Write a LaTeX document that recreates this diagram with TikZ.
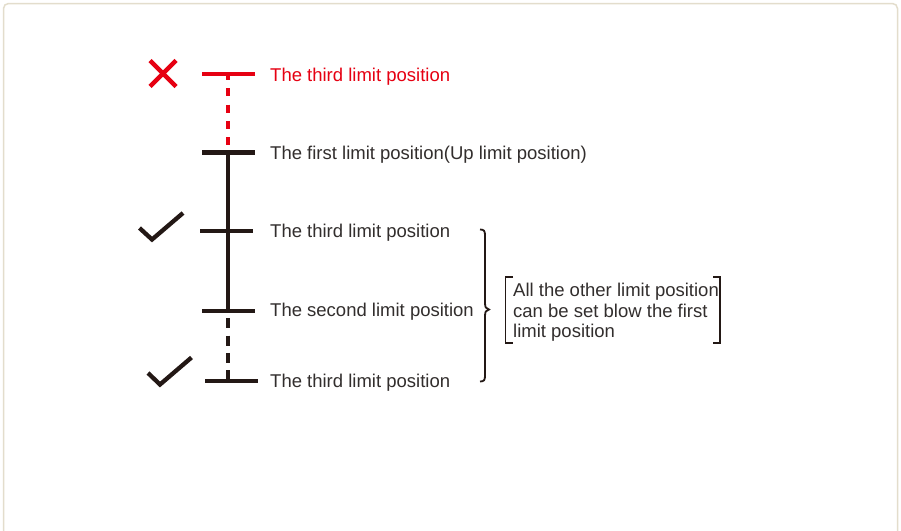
\documentclass[tikz,border=0pt]{standalone}
\usepackage{fontspec}
\setmainfont{Liberation Sans}
\usetikzlibrary{calc}
\definecolor{inkblack}{HTML}{231815}
\definecolor{inkred}{HTML}{E60012}
\definecolor{txtgray}{HTML}{322E2D}
\definecolor{framecol}{HTML}{E3DDCC}
\begin{document}
\begin{tikzpicture}[x=1pt,y=-1pt,
  tickbar/.style={draw=none,fill=inkblack,minimum width=53pt,minimum height=4.5pt,inner sep=0pt,outer sep=0pt},
  redbar/.style={tickbar,fill=inkred},
  lbl/.style={anchor=base west,inner sep=0pt,font=\fontsize{18.5}{20.5}\selectfont,text=txtgray},
  redlbl/.style={lbl,text=inkred},
  stem/.style={line width=4pt,inkblack},
  symstroke/.style={line width=4.3pt},
  thinline/.style={line width=1.8pt,inkblack},
]
\useasboundingbox (0,0) rectangle (901,530);
\fill[white] (0,0) rectangle (901,530);
\draw[framecol,line width=1.5pt,rounded corners=5pt] (3.5,3.5) rectangle (897.5,545);

% tick positions
\coordinate (c0) at (228,74);
\coordinate (c1) at (228,152.5);
\coordinate (c2) at (228,231);
\coordinate (c3) at (228,311);
\coordinate (c4) at (228,381);

% connectors (drawn first, ticks on top)
\draw[line width=4pt,inkred,dash pattern=on 8pt off 8.3pt,dash phase=2pt] (c0) -- (c1);
\draw[stem] (c1) -- (c2);
\draw[stem] (c2) -- (c3);
\draw[stem,dash pattern=on 10pt off 7.3pt,dash phase=10pt] (c3) -- (c4);

% ticks
\node[redbar] (t0) at (c0) {};
\node[tickbar] (t1) at (c1) {};
\node[tickbar] (t2) at (226.5,231) {};
\node[tickbar] (t3) at (228.5,311) {};
\node[tickbar] (t4) at (231.5,381) {};

% labels
\node[redlbl] (l0) at (270,81.5) {The third limit position};
\node[lbl] (l1) at (270,159) {The first limit position(Up limit position)};
\node[lbl] (l2) at (270,237.5) {The third limit position};
\node[lbl] (l3) at (270,316.5) {The second limit position};
\node[lbl] (l4) at (270,387) {The third limit position};

% cross
\coordinate (x0) at (163,73.5);
\draw[symstroke,inkred] ($(x0)+(-13,-13)$) -- ($(x0)+(13,13)$);
\draw[symstroke,inkred] ($(x0)+(-13,13)$) -- ($(x0)+(13,-13)$);

% check marks
\draw[symstroke,inkblack] (139.5,228) -- (152,239.5) -- (183,213);
\draw[symstroke,inkblack] (148,373) -- (160,384.5) -- (191.5,357.5);

% brace
\draw[thinline] (480,229.5) .. controls (484,229.5) and (485,231) .. (485,235)
  -- (485,303) .. controls (485,307) and (486,309) .. (489,309.5)
  .. controls (486,310) and (485,312) .. (485,316)
  -- (485,376) .. controls (485,380) and (484,381.5) .. (480,381.5);

% bracketed note (base anchor = baseline of the last line)
\node[lbl,align=left] (note) at (513,337.5) {All the other limit position\\can be set blow the first\\limit position};
\draw[thinline] (513,277) -- (505.5,277) -- (505.5,343) -- (513,343);
\draw[thinline] (713,277) -- (720,277) -- (720,343) -- (713,343);
\end{tikzpicture}
\end{document}
